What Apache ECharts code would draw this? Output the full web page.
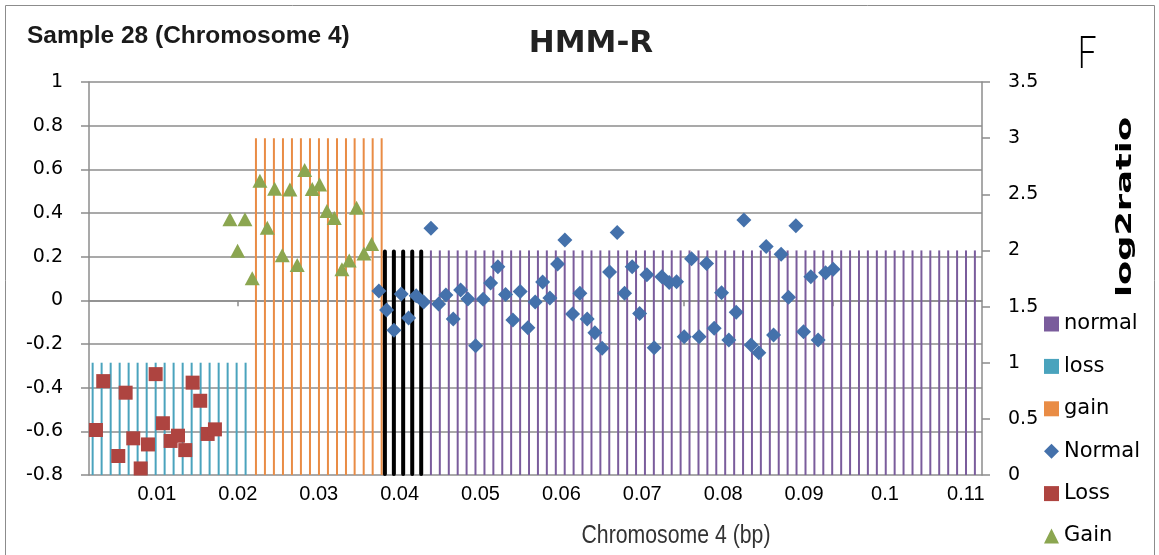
<!DOCTYPE html>
<html>
<head>
    <meta charset="utf-8">
    <title>HMM-R</title>
    <script src="https://cdn.jsdelivr.net/npm/echarts@6.0.0/dist/echarts.min.js"></script>
</head>
<body style="margin:0">
<div id="main" style="width: 1159px;height:555px;"></div>
<script type="text/javascript">
    // bottom axis labels and the small ticks of the scatter axis at y = 0
    var xTickValues = [0.01, 0.02, 0.03, 0.04, 0.05, 0.06, 0.07, 0.08, 0.09, 0.1, 0.11];
    var zeroAxisTicks = [0.0200, 0.0384, 0.0569, 0.0751, 0.0936];

    // HMM state columns (secondary axis), one per probe bin
    var lossBarX = [0.00205, 0.00316, 0.00428, 0.00539, 0.0065, 0.00761, 0.00873, 0.00984, 0.01095,
        0.01206, 0.01318, 0.01429, 0.0154, 0.01651, 0.01763, 0.01874, 0.01985, 0.02096];
    var gainBarX = [0.02224, 0.02335, 0.02446, 0.02558, 0.02669, 0.0278, 0.02892, 0.03003, 0.03114,
        0.03226, 0.03337, 0.03444, 0.03556, 0.03667, 0.03778];
    var edgeBarX = [0.03818, 0.03929, 0.04044, 0.04156, 0.04267];
    var normalBarX = [0.04387, 0.04497, 0.04608, 0.04718, 0.04828, 0.04938, 0.05049, 0.05159, 0.05269,
        0.05379, 0.0549, 0.056, 0.0571, 0.0582, 0.05931, 0.06041, 0.06151, 0.06261, 0.06372, 0.06482,
        0.06592, 0.06702, 0.06813, 0.06923, 0.07033, 0.07143, 0.07254, 0.07364, 0.07474, 0.07584,
        0.07695, 0.07805, 0.07915, 0.08025, 0.08136, 0.08246, 0.08356, 0.08466, 0.08577, 0.08687,
        0.08797, 0.08907, 0.09018, 0.09128, 0.09238, 0.09348, 0.09459, 0.09569, 0.09679, 0.09789,
        0.099, 0.1001, 0.1012, 0.1023, 0.10341, 0.10451, 0.10561, 0.10671, 0.10782, 0.10892,
        0.11002, 0.11112];
    var lossLevel = 1, gainLevel = 3, edgeLevel = 2, normalLevel = 2;

    // log2ratio points
    var lossX = [0.00246, 0.00336, 0.00522, 0.00613, 0.00707, 0.00799, 0.00889, 0.00984, 0.01074,
        0.01169, 0.0126, 0.0135, 0.01441, 0.01535, 0.01627, 0.01717];
    var lossY = [-0.594, -0.370, -0.713, -0.423, -0.632, -0.770, -0.660, -0.338, -0.563,
        -0.644, -0.620, -0.686, -0.377, -0.460, -0.612, -0.591];

    var gainX = [0.01902, 0.01997, 0.02088, 0.02178, 0.02273, 0.02364, 0.02455, 0.02549, 0.02644,
        0.02734, 0.02826, 0.0292, 0.03011, 0.03101, 0.03192, 0.03287, 0.03377, 0.03468, 0.03559, 0.03654];
    var gainY = [0.371, 0.227, 0.371, 0.101, 0.548, 0.333, 0.511, 0.207, 0.508,
        0.162, 0.597, 0.510, 0.530, 0.409, 0.377, 0.142, 0.183, 0.424, 0.215, 0.258];

    var normalX = [0.03744, 0.03839, 0.0393, 0.0402, 0.04111, 0.04205, 0.04297, 0.04387, 0.04482,
        0.04572, 0.04663, 0.04754, 0.04844, 0.0494, 0.05033, 0.05125, 0.05215, 0.0531, 0.054,
        0.05491, 0.05586, 0.05676, 0.05768, 0.05858, 0.05953, 0.06043, 0.06138, 0.06229, 0.06319,
        0.06414, 0.06504, 0.06596, 0.0669, 0.06781, 0.06875, 0.06967, 0.07057, 0.07147, 0.07242,
        0.07333, 0.07424, 0.07518, 0.07609, 0.07703, 0.07795, 0.07889, 0.0798, 0.0807, 0.08161,
        0.08256, 0.08346, 0.08441, 0.08532, 0.08623, 0.08717, 0.08808, 0.08899, 0.08994, 0.09084,
        0.09174, 0.09266, 0.0936];
    var normalY = [0.043, -0.044, -0.137, 0.029, -0.081, 0.021, -0.008, 0.330, -0.017,
        0.024, -0.086, 0.047, 0.006, -0.208, 0.005, 0.079, 0.154, 0.027, -0.090,
        0.041, -0.125, -0.008, 0.084, 0.011, 0.166, 0.276, -0.063, 0.032, -0.086,
        -0.148, -0.220, 0.130, 0.311, 0.032, 0.154, -0.060, 0.117, -0.217, 0.108,
        0.082, 0.085, -0.167, 0.191, -0.167, 0.169, -0.128, 0.035, -0.182, -0.055,
        0.368, -0.205, -0.240, 0.246, -0.159, 0.211, 0.014, 0.342, -0.144, 0.108,
        -0.182, 0.126, 0.142];

    function pairs(xs, ys) {
        return xs.map(function (x, i) { return [x, ys[i]]; });
    }
    function columns(xs, level) {
        return xs.map(function (x) { return [x, level]; });
    }

    var gridColor = '#8c8c8c';
    var xMin = 0.0016, xMax = 0.112;

    var myChart = echarts.init(document.getElementById('main'));

    var barBase = {
        type: 'bar',
        xAxisIndex: 0,
        yAxisIndex: 1,
        barWidth: 2,
        barGap: '-100%',
        z: 1,
        silent: true
    };

    var option = {
        animation: false,
        grid: {left: 89, right: 177, top: 82, bottom: 80},
        legend: {
            orient: 'vertical',
            left: 1044,
            top: 313,
            height: 260,
            padding: 0,
            itemWidth: 15,
            itemHeight: 15,
            itemGap: 20.4,
            selectedMode: false,
            textStyle: {fontFamily: 'DejaVu Sans', fontSize: 21, lineHeight: 22, color: '#000'},
            data: [
                {name: 'normal', icon: 'rect'},
                {name: 'loss', icon: 'rect'},
                {name: 'gain', icon: 'rect'},
                {name: 'Normal', icon: 'diamond'},
                {name: 'Loss', icon: 'rect'},
                {name: 'Gain', icon: 'triangle'}
            ]
        },
        xAxis: [{
            type: 'value',
            min: xMin,
            max: xMax,
            axisLine: {show: false, onZero: false},
            axisTick: {show: false},
            splitLine: {show: false},
            axisLabel: {
                customValues: xTickValues,
                margin: 9,
                fontFamily: 'Liberation Sans',
                fontSize: 20,
                color: '#000',
                formatter: function (v) { return String(+v.toFixed(2)); }
            }
        }, {
            type: 'value',
            position: 'bottom',
            min: xMin,
            max: xMax,
            axisLine: {show: true, onZero: true, onZeroAxisIndex: 0, lineStyle: {color: gridColor, width: 1.5}},
            axisTick: {show: true, customValues: zeroAxisTicks, length: 6, lineStyle: {color: gridColor, width: 1.5}},
            axisLabel: {show: false},
            splitLine: {show: false}
        }],
        yAxis: [{
            type: 'value',
            min: -0.8,
            max: 1,
            interval: 0.2,
            axisLine: {show: true, lineStyle: {color: gridColor, width: 1.5}},
            axisTick: {show: true, length: 8, lineStyle: {color: gridColor, width: 1.5}},
            splitLine: {show: true, lineStyle: {color: gridColor, width: 1.5}},
            axisLabel: {margin: 26, fontFamily: 'DejaVu Sans', fontSize: 19, color: '#000'}
        }, {
            type: 'value',
            min: 0,
            max: 3.5,
            interval: 0.5,
            position: 'right',
            axisLine: {show: true, lineStyle: {color: gridColor, width: 1.5}},
            axisTick: {show: true, length: 8, lineStyle: {color: gridColor, width: 1.5}},
            splitLine: {show: false},
            axisLabel: {margin: 26, fontFamily: 'DejaVu Sans', fontSize: 19, color: '#000'}
        }],
        series: [
            Object.assign({}, barBase, {name: 'normal', data: columns(normalBarX, normalLevel), itemStyle: {color: '#7A5C9C'}}),
            Object.assign({}, barBase, {name: 'loss', data: columns(lossBarX, lossLevel), itemStyle: {color: '#4AA3BD'}}),
            Object.assign({}, barBase, {name: 'gain', data: columns(gainBarX, gainLevel), itemStyle: {color: '#E98C45'}}),
            Object.assign({}, barBase, {
                name: 'edge', data: columns(edgeBarX, edgeLevel),
                itemStyle: {color: '#000', borderColor: '#000', borderWidth: 4, borderJoin: 'round'}
            }),
            {
                name: 'Normal', type: 'scatter', xAxisIndex: 0, yAxisIndex: 0, z: 3,
                symbol: 'diamond', symbolSize: 15,
                itemStyle: {color: '#4471AB', opacity: 1},
                data: pairs(normalX, normalY)
            },
            {
                name: 'Loss', type: 'scatter', xAxisIndex: 0, yAxisIndex: 0, z: 3,
                symbol: 'rect', symbolSize: 14,
                itemStyle: {color: '#AE4440', opacity: 1},
                data: pairs(lossX, lossY)
            },
            {
                name: 'Gain', type: 'scatter', xAxisIndex: 0, yAxisIndex: 0, z: 3,
                symbol: 'triangle', symbolSize: [15, 14],
                itemStyle: {color: '#8BA650', opacity: 1},
                data: pairs(gainX, gainY)
            }
        ],
        graphic: [
            {
                type: 'rect', silent: true, z: -1,
                shape: {x: 5.5, y: 5.5, width: 1149, height: 570},
                style: {fill: 'none', stroke: '#8c8c8c', lineWidth: 1}
            },
            {
                type: 'text', left: 27, top: 24,
                style: {text: 'Sample 28 (Chromosome 4)', font: 'bold 24.5px "Liberation Sans"', fill: '#1a1a1a'}
            },
            {
                type: 'text', x: 591, y: 44,
                style: {text: 'HMM-R', font: 'bold 31px "DejaVu Sans"', fill: '#222', textAlign: 'center', textVerticalAlign: 'middle'}
            },
            {
                type: 'text', x: 1087, y: 53, scaleX: 0.75,
                style: {text: 'F', font: '300 46px Lato', fill: '#000', textAlign: 'center', textVerticalAlign: 'middle'}
            },
            {
                type: 'text', x: 1125, y: 207, rotation: Math.PI / 2, scaleX: 1.6,
                style: {text: 'log2ratio', font: 'bold 22px "DejaVu Sans"', fill: '#000', textAlign: 'center', textVerticalAlign: 'middle'}
            },
            {
                type: 'text', x: 676, y: 536, scaleX: 0.85,
                style: {text: 'Chromosome 4 (bp)', font: '25px "Liberation Sans"', fill: '#333', textAlign: 'center', textVerticalAlign: 'middle'}
            }
        ]
    };

    myChart.setOption(option);
</script>
</body>
</html>
